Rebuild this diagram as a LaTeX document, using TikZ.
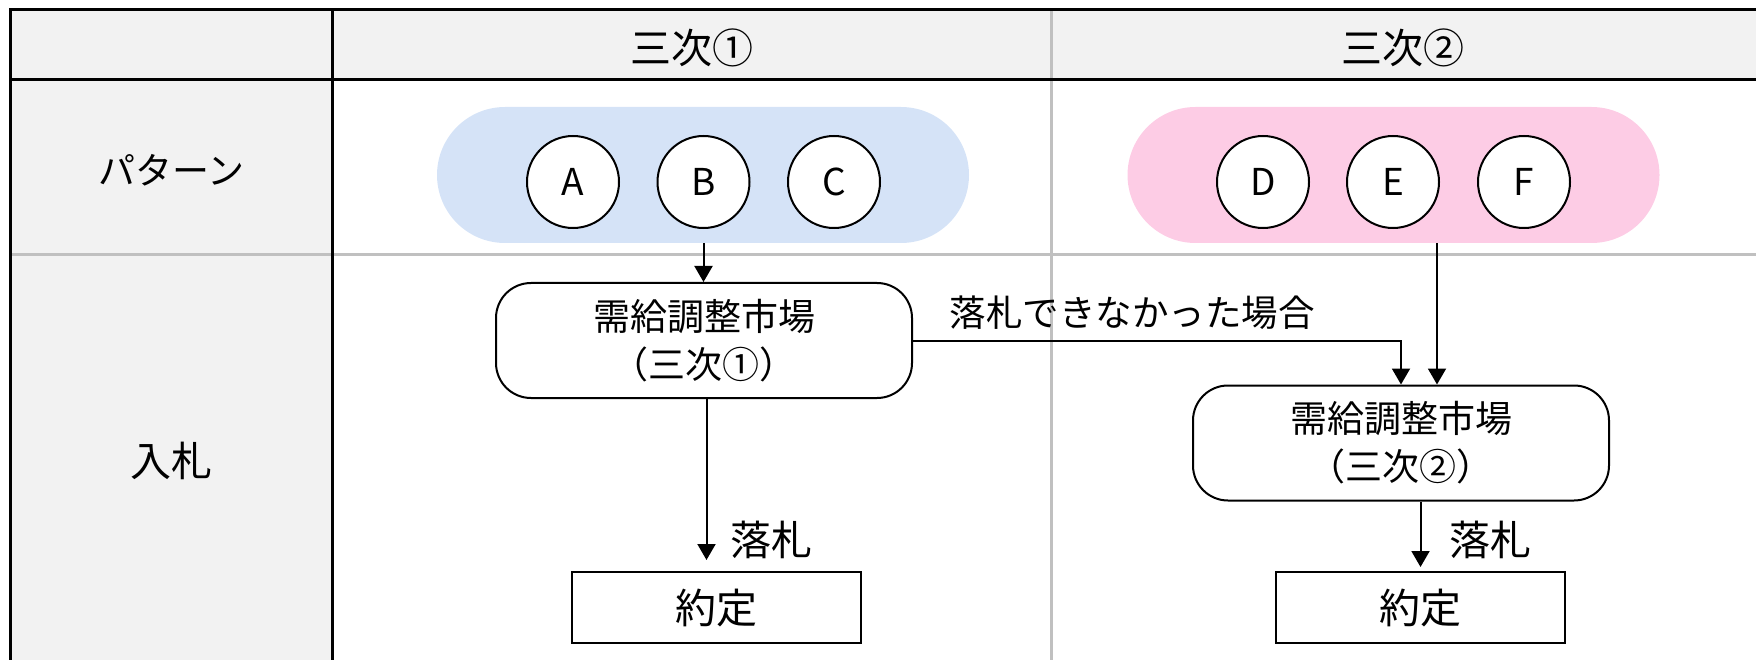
\documentclass[tikz,border=0pt]{standalone}
\usepackage{fontspec}
\setmainfont{Noto Sans CJK JP}
\usetikzlibrary{arrows.meta}
\definecolor{hdrfill}{HTML}{F2F2F2}
\definecolor{gridgray}{HTML}{C0C0C0}
\definecolor{pillblue}{HTML}{D5E3F7}
\definecolor{pillpink}{HTML}{FDCCE5}
\begin{document}
\begin{tikzpicture}[x=1pt,y=-1pt,
  blackline/.style={line width=3pt,black},
  grayline/.style={line width=3pt,gridgray},
  hdrtext/.style={font=\fontsize{41}{48}\selectfont,inner sep=0pt},
  bigtext/.style={font=\fontsize{41}{48}\selectfont,inner sep=0pt},
  pill/.style={rounded corners=68pt,minimum width=532pt,minimum height=136pt,inner sep=0pt},
  letter/.style={circle,draw=black,line width=2pt,fill=white,minimum size=92pt,inner sep=0pt,font=\fontsize{37}{44}\selectfont},
  market/.style={draw=black,line width=2pt,rounded corners=35pt,minimum width=416pt,minimum height=115pt,align=center,inner sep=0pt,font=\fontsize{37}{48}\selectfont},
  contract/.style={draw=black,line width=2pt,minimum width=289pt,minimum height=71pt,inner sep=0pt,font=\fontsize{41}{48}\selectfont},
  arr/.style={line width=2pt,-{Triangle[width=18pt,length=16pt]}}
]
\useasboundingbox (0,0) rectangle (1756,660);
% table background
\fill[hdrfill] (10,10) rectangle (1756,80);
\fill[hdrfill] (10,80) rectangle (332,660);
% gray grid lines
\draw[grayline] (10,255) -- (1756,255);
\draw[grayline] (1051,10) -- (1051,660);
% black grid lines
\draw[blackline] (10,660) -- (10,10) -- (1756,10);
\draw[blackline] (10,80) -- (1756,80);
\draw[blackline] (332,10) -- (332,660);
% header and row labels
\node[hdrtext] (h1) at (692,48) {三次①};
\node[hdrtext] (h2) at (1403,48) {三次②};
\node[font=\fontsize{37}{44}\selectfont,inner sep=0pt] (rp) at (171.5,170) {パターン};
\node[bigtext] (rb) at (171,461) {入札};
% pills
\node[pill,fill=pillblue] (p1) at (703,175) {};
\node[pill,fill=pillpink] (p2) at (1393.5,175) {};
\node[letter] (A) at (573,182) {A};
\node[letter] (B) at (703.5,182) {B};
\node[letter] (C) at (834,182) {C};
\node[letter] (D) at (1263,182) {D};
\node[letter] (E) at (1393,182) {E};
\node[letter] (F) at (1524,182) {F};
% market boxes
\node[market] (m1) at (704,340.5) {需給調整市場\\（三次①）};
\node[market] (m2) at (1401,443) {需給調整市場\\（三次②）};
% contract boxes
\node[contract] (k1) at (716.5,607.5) {約定};
\node[contract] (k2) at (1420,607.5) {約定};
% connectors
\coordinate (t1) at (706.5,560);
\coordinate (t2) at (1420.5,567);
\draw[arr] (B.south |- p1.south) -- (B.south |- m1.north);
\draw[arr] (m1.south -| t1) -- (t1);
\draw[arr] (m1.east) -| (m2.north);
\draw[arr] ([xshift=43.5pt]p2.south) -- ([xshift=36pt]m2.north);
\draw[arr] (m2.south -| t2) -- (t2);
% labels
\node[bigtext] (l1) at (771,540) {落札};
\node[bigtext] (l2) at (1490,540) {落札};
\node[font=\fontsize{36.5}{44}\selectfont,inner sep=0pt] (lf) at (1132,313) {落札できなかった場合};
\end{tikzpicture}
\end{document}
